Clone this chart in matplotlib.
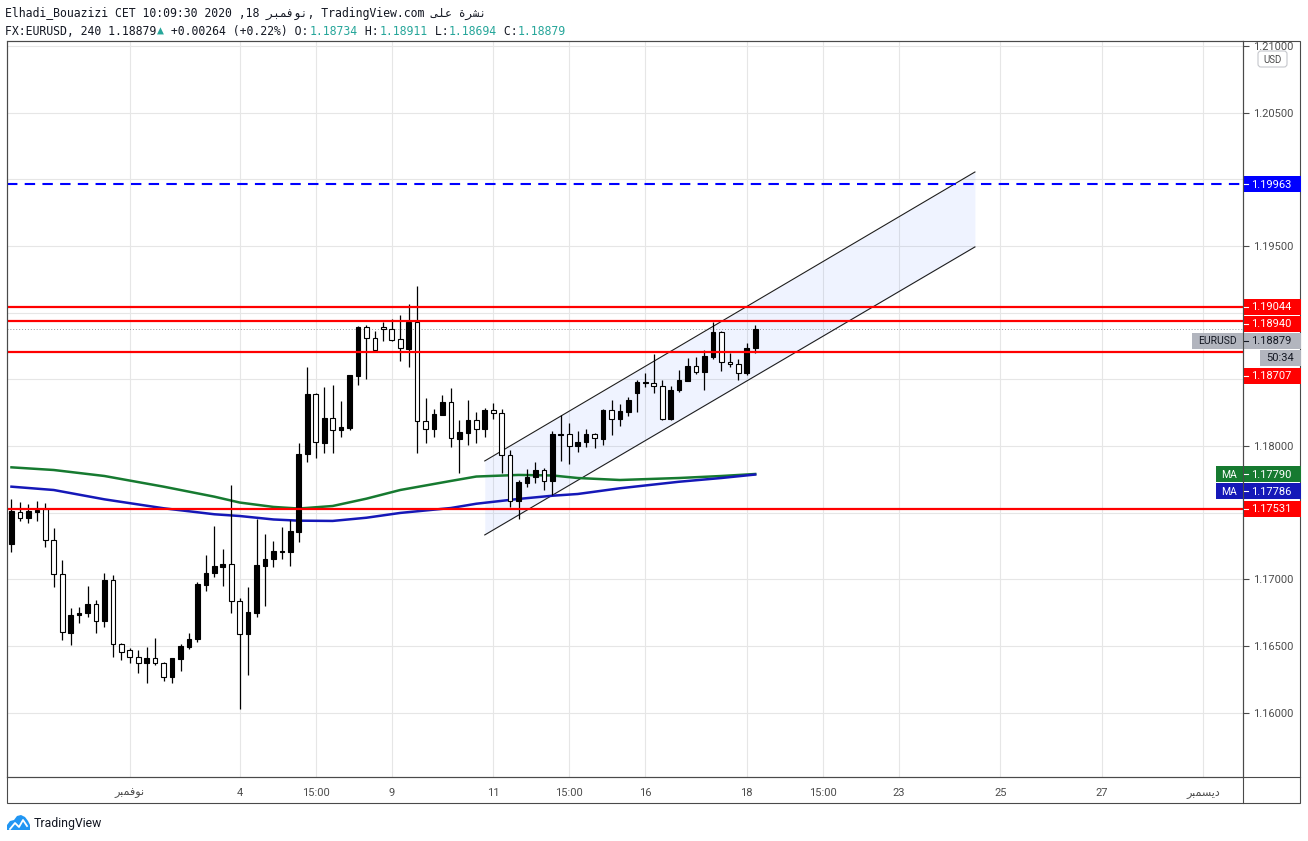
import numpy as np
import matplotlib
matplotlib.use('Agg')
import matplotlib.pyplot as plt
from matplotlib.patches import Rectangle, FancyBboxPatch, Polygon
from matplotlib.transforms import Bbox

W, H = 1308, 841

# arabic words, pre-shaped glyphs written in display order
NOV = '\ufeae\ufe92\ufee4\ufed3\ufeee\ufee7'
DEC = '\ufeae\ufe92\ufee4\ufeb4\ufef3\ufea9'
ALA = '\ufef0\ufee0\ufecb'
NASHRA = '\ufe93\ufeae\ufeb8\ufee7'

# 4h candles, bar 0 = first bar of Nov 4
first_bar = -27
opens = [1.17263, 1.17507, 1.17458, 1.17507, 1.17528, 1.17293, 1.17038, 1.16600, 1.16730, 1.16745,
         1.16813, 1.16685, 1.16995, 1.16513, 1.16468, 1.16415, 1.16370, 1.16408, 1.16370, 1.16270,
         1.16405, 1.16495, 1.16550, 1.16960, 1.17045, 1.17095, 1.17113, 1.16835, 1.16588, 1.16750,
         1.17102, 1.17150, 1.17207, 1.17207, 1.17357, 1.17938, 1.18388, 1.18025, 1.18208, 1.18118,
         1.18137, 1.18527, 1.18890, 1.18808, 1.18890, 1.18875, 1.18800, 1.18730, 1.18930, 1.18185,
         1.18125, 1.18235, 1.18328, 1.18055, 1.18100, 1.18193, 1.18125, 1.18268, 1.18245, 1.17930,
         1.17585, 1.17725, 1.17765, 1.17818, 1.17735, 1.18085, 1.18088, 1.17998, 1.18028, 1.18088,
         1.18055, 1.18268, 1.18203, 1.18257, 1.18398, 1.18473, 1.18470, 1.18448, 1.18205, 1.18420,
         1.18490, 1.18600, 1.18557, 1.18670, 1.18855, 1.18628, 1.18613, 1.18545, 1.18734]
highs = [1.17603, 1.17580, 1.17565, 1.17588, 1.17570, 1.17383, 1.17145, 1.16785, 1.16790, 1.16948,
         1.16845, 1.17048, 1.17030, 1.16523, 1.16485, 1.16470, 1.16495, 1.16560, 1.16380, 1.16408,
         1.16515, 1.16595, 1.16978, 1.17183, 1.17400, 1.17225, 1.17708, 1.16858, 1.16945, 1.17453,
         1.17340, 1.17288, 1.17393, 1.17443, 1.18020, 1.18590, 1.18395, 1.18440, 1.18458, 1.18338,
         1.18533, 1.18900, 1.18910, 1.18863, 1.18932, 1.18950, 1.18983, 1.19063, 1.19200, 1.18358,
         1.18278, 1.18380, 1.18433, 1.18195, 1.18345, 1.18255, 1.18285, 1.18323, 1.18275, 1.17968,
         1.17745, 1.17828, 1.17880, 1.17837, 1.18113, 1.18233, 1.18170, 1.18110, 1.18130, 1.18100,
         1.18275, 1.18345, 1.18313, 1.18365, 1.18495, 1.18550, 1.18688, 1.18495, 1.18450, 1.18570,
         1.18658, 1.18670, 1.18720, 1.18932, 1.18860, 1.18695, 1.18655, 1.18770, 1.18911]
lows = [1.17207, 1.17440, 1.17425, 1.17440, 1.17240, 1.16945, 1.16545, 1.16505, 1.16675, 1.16720,
        1.16600, 1.16645, 1.16420, 1.16395, 1.16375, 1.16300, 1.16225, 1.16360, 1.16240, 1.16225,
        1.16315, 1.16475, 1.16532, 1.16915, 1.17020, 1.16952, 1.16750, 1.16025, 1.16283, 1.16720,
        1.16802, 1.17095, 1.17153, 1.17102, 1.17278, 1.17882, 1.17908, 1.17950, 1.17950, 1.18070,
        1.18120, 1.18458, 1.18505, 1.18713, 1.18788, 1.18788, 1.18640, 1.18595, 1.17950, 1.18025,
        1.18070, 1.18230, 1.17995, 1.17795, 1.18005, 1.18025, 1.18065, 1.18205, 1.17795, 1.17540,
        1.17450, 1.17690, 1.17720, 1.17672, 1.17630, 1.17890, 1.17867, 1.17955, 1.17995, 1.17985,
        1.18005, 1.18080, 1.18150, 1.18225, 1.18257, 1.18445, 1.18400, 1.18195, 1.18195, 1.18405,
        1.18490, 1.18538, 1.18420, 1.18650, 1.18563, 1.18595, 1.18495, 1.18530, 1.18694]
closes = [1.17513, 1.17458, 1.17513, 1.17518, 1.17293, 1.17038, 1.16603, 1.16730, 1.16745, 1.16813,
          1.16685, 1.16995, 1.16513, 1.16453, 1.16415, 1.16370, 1.16408, 1.16370, 1.16270, 1.16408,
          1.16500, 1.16550, 1.16963, 1.17045, 1.17100, 1.17113, 1.16835, 1.16588, 1.16753, 1.17108,
          1.17153, 1.17213, 1.17215, 1.17363, 1.17940, 1.18388, 1.18028, 1.18208, 1.18118, 1.18143,
          1.18533, 1.18890, 1.18808, 1.18722, 1.18875, 1.18797, 1.18733, 1.18930, 1.18185, 1.18125,
          1.18238, 1.18328, 1.18058, 1.18105, 1.18193, 1.18125, 1.18268, 1.18248, 1.17930, 1.17585,
          1.17728, 1.17768, 1.17818, 1.17735, 1.18088, 1.18092, 1.17998, 1.18030, 1.18088, 1.18058,
          1.18268, 1.18203, 1.18260, 1.18345, 1.18482, 1.18482, 1.18448, 1.18205, 1.18420, 1.18495,
          1.18600, 1.18557, 1.18675, 1.18855, 1.18628, 1.18613, 1.18545, 1.18733, 1.18879]

# moving averages sampled along the curves
ma_bars = [-27, -22, -16, -9, -3, 0, 4, 7, 11, 15, 19, 25, 28, 33, 37, 40, 45, 52, 57, 61]
ma_green = [1.17840, 1.17820, 1.17775, 1.17695, 1.17620, 1.17576, 1.17543, 1.17531, 1.17550, 1.17605,
            1.17670, 1.17738, 1.17771, 1.17783, 1.17779, 1.17760, 1.17745, 1.17760, 1.17775, 1.17790]
ma_blue = [1.17695, 1.17670, 1.17600, 1.17533, 1.17488, 1.17475, 1.17449, 1.17440, 1.17438, 1.17462,
           1.17498, 1.17535, 1.17567, 1.17603, 1.17627, 1.17640, 1.17683, 1.17732, 1.17760, 1.17786]

red_levels = [1.19044, 1.18940, 1.18707, 1.17531]
blue_level = 1.19963
last_price = 1.18879

channel_bars = [29, 87]
channel_upper = [1.17888, 1.20055]
channel_lower = [1.17333, 1.19493]

price_ticks = [1.160, 1.165, 1.170, 1.175, 1.180, 1.185, 1.190, 1.195, 1.200, 1.205, 1.210]
# these ones sit under the coloured price boxes
hidden_ticks = [1.175, 1.185, 1.190, 1.200]
tick_bars = [-13, 0, 9, 18, 30, 39, 48, 60, 69, 78, 90, 102, 114]
tick_labels = [NOV, '4', '15:00', '9', '11', '15:00', '16', '18', '15:00', '23', '25', '27', DEC]

MONO = ['DejaVu Sans Mono', 'DejaVu Sans']
TEAL = '#26a69a'
DARK = '#131722'
GREY = '#4a4a4a'
GREEN = '#167a30'
BLUE = '#1518b8'

plt.rcParams['font.family'] = ['Roboto', 'DejaVu Sans']

fig = plt.figure(figsize=(W / 100, H / 100), dpi=100)
fig.patch.set_facecolor('white')

ax = fig.add_axes([7 / W, 1 - 777 / H, 1236 / W, 736 / H])
ax.set_xlim(-27.53, 118.72)
ax.set_ylim(1.155175, 1.210375)

ax.set_yticks(price_ticks)
ax.set_yticklabels(['' if v in hidden_ticks else f'{v:.5f}' for v in price_ticks])
ax.yaxis.tick_right()
ax.tick_params(axis='y', length=4, width=0.8, color=GREY, pad=3, labelsize=8, labelcolor='#4c4c4c')
ax.set_xticks(tick_bars)
ax.set_xticklabels(tick_labels)
ax.tick_params(axis='x', length=0, pad=8, labelsize=8, labelcolor='#4c4c4c')
ax.grid(True, color='#e6e6e6', lw=0.8)
ax.set_axisbelow(True)
for s in ax.spines.values():
    s.set_color(GREY)
    s.set_linewidth(0.8)

# top price label is cut by the frame
clip = Bbox([[1243, 0], [1301, H - 42]])
for lab in ax.get_yticklabels():
    lab.set_clip_on(True)
    lab.set_clip_box(clip)

# candles
bars = np.arange(first_bar, first_bar + len(opens))
o = np.array(opens)
c = np.array(closes)
up = c >= o
ax.vlines(bars, lows, highs, color='black', lw=0.9, zorder=3)
ax.bar(bars, c - o, bottom=o, width=0.55, color=np.where(up, 'black', 'white'),
       edgecolor='black', lw=0.8, zorder=4)

# moving averages
ax.plot(ma_bars, ma_green, color=GREEN, lw=1.8, zorder=2.6)
ax.plot(ma_bars, ma_blue, color=BLUE, lw=1.8, zorder=2.6)

# channel
ax.fill_between(channel_bars, channel_lower, channel_upper, color='#2962ff', alpha=0.07, lw=0, zorder=2)
ax.plot(channel_bars, channel_upper, color='#1e1e1e', lw=0.8, zorder=2.5)
ax.plot(channel_bars, channel_lower, color='#1e1e1e', lw=0.8, zorder=2.5)

# horizontal levels
for v in red_levels:
    ax.axhline(v, color='#ff0000', lw=1.6, zorder=5)
ax.axhline(blue_level, color='#0000ff', lw=1.5, ls=(0, (5, 3.5)), zorder=5)
ax.axhline(last_price, color='#9598a1', lw=0.7, ls=(0, (1, 2)), zorder=2.4)

# overlay in pixel coordinates for the chart chrome
ov = fig.add_axes([0, 0, 1, 1])
ov.set_xlim(0, W)
ov.set_ylim(H, 0)
ov.axis('off')
ov.patch.set_visible(False)
ov.set_zorder(10)

ov.add_patch(Rectangle((7, 41), 1293, 762, fill=False, ec=GREY, lw=0.8))
ov.plot([7, 1300], [777, 777], color=GREY, lw=0.8)
ov.plot([1243, 1243], [41, 803], color=GREY, lw=0.8)


def ypix(v):
    return H - ax.transData.transform((0, v))[1]


def price_box(v, text, fc, tc='white', dy=0.0):
    y = ypix(v) + dy
    ov.add_patch(Rectangle((1243.5, y - 8), 57, 16, fc=fc, lw=0))
    ov.plot([1243.5, 1248], [y, y], color=tc, lw=0.8)
    ov.text(1251.5, y + 0.5, text, color=tc, fontsize=8, va='center', ha='left')
    return y


price_box(blue_level, f'{blue_level:.5f}', '#0000ff')
price_box(red_levels[0], f'{red_levels[0]:.5f}', '#ff0000')
price_box(red_levels[1], f'{red_levels[1]:.5f}', '#ff0000', dy=3)
y_last = price_box(last_price, f'{last_price:.5f}', '#b2b5be', tc=DARK, dy=12)
ov.add_patch(Rectangle((1192, y_last - 8), 51, 16, fc='#b2b5be', lw=0))
ov.text(1217.5, y_last + 0.5, 'EURUSD', color=DARK, fontsize=7.5, va='center', ha='center')
ov.add_patch(Rectangle((1260, y_last + 9), 40.5, 16, fc='#b2b5be', lw=0))
ov.text(1280, y_last + 17.5, '50:34', color=DARK, fontsize=8, va='center', ha='center')
price_box(red_levels[2], f'{red_levels[2]:.5f}', '#ff0000', dy=24)
yg = price_box(ma_green[-1], f'{ma_green[-1]:.5f}', GREEN)
ov.add_patch(Rectangle((1216, yg - 8), 27, 16, fc=GREEN, lw=0))
ov.text(1229.5, yg + 0.5, 'MA', color='white', fontsize=7.5, va='center', ha='center')
yb = price_box(ma_blue[-1], f'{ma_blue[-1]:.5f}', BLUE, dy=16.5)
ov.add_patch(Rectangle((1216, yb - 8), 27, 16, fc=BLUE, lw=0))
ov.text(1229.5, yb + 0.5, 'MA', color='white', fontsize=7.5, va='center', ha='center')
price_box(red_levels[3], f'{red_levels[3]:.5f}', '#ff0000')

# USD badge
ov.add_patch(FancyBboxPatch((1258, 51), 29, 16, boxstyle='round,pad=0,rounding_size=3',
                            fc='white', ec='#c5c7cc', lw=0.8))
ov.text(1272.5, 59.5, 'USD', color='#4c4c4c', fontsize=7, va='center', ha='center')

# header
ov.text(5, 13, f'Elhadi_Bouazizi CET 10:09:30 2020 ,18 {NOV}, TradingView.com {ALA} {NASHRA}',
        color=DARK, fontsize=8.3, family=MONO, va='center', ha='left')
CH = 6.93
parts = [('FX:EURUSD, 240 1.18879', DARK), ('\u25b2', TEAL), (' +0.00264 (+0.22%) O:', DARK),
         ('1.18734', TEAL), (' H:', DARK), ('1.18911', TEAL), (' L:', DARK), ('1.18694', TEAL),
         (' C:', DARK), ('1.18879', TEAL)]
x = 5
for s, col in parts:
    ov.text(x, 31, s, color=col, fontsize=8.3, family=MONO, va='center', ha='left')
    x += len(s) * CH

# TradingView logo
ov.add_patch(Polygon([(7, 830), (7, 825), (10, 821), (14, 820), (17, 816), (21, 815), (25, 817),
                      (28, 821), (30, 825), (30, 830)], closed=True, fc='#2196f3', lw=0))
ov.plot([10, 15, 19, 23, 27], [829, 823, 827, 820, 826], color='white', lw=1.3)
ov.text(34, 823, 'TradingView', color=DARK, fontsize=8.8, va='center', ha='left')

fig.savefig('out.png', dpi=100, facecolor='white')
